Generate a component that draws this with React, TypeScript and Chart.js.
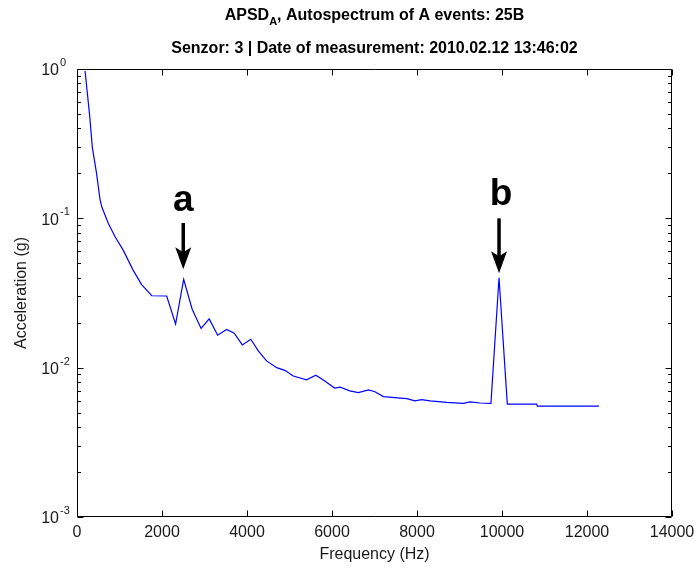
import React, { useEffect, useRef } from 'react';
import { Chart, registerables } from 'chart.js';

Chart.register(...registerables);

// ---- Data ----
const freqHz = [
  190, 300, 360, 460, 540, 580, 740, 900, 1090, 1320, 1520, 1760, 2110, 2320, 2510,
  2710, 2920, 3110, 3310, 3520, 3700, 3890, 4090, 4270, 4460, 4700, 4890, 5090, 5400,
  5620, 5840, 6060, 6190, 6420, 6620, 6860, 7010, 7210, 7480, 7760, 7950, 8110, 8310,
  8700, 9090, 9250, 9480, 9740, 9930, 10125, 10815, 10830, 12280,
];
const accelG = [
  0.97, 0.48, 0.30, 0.20, 0.135, 0.12, 0.092, 0.075, 0.061, 0.045, 0.036, 0.0303, 0.0302, 0.0196, 0.039,
  0.0246, 0.0183, 0.0212, 0.0165, 0.018, 0.017, 0.0142, 0.0155, 0.0129, 0.0111, 0.0100, 0.0096, 0.0088, 0.0083,
  0.0089, 0.0081, 0.0073, 0.0074, 0.0070, 0.0068, 0.0071, 0.0069, 0.0064, 0.0063, 0.0062, 0.0060, 0.0061, 0.0060,
  0.00585, 0.00577, 0.0059, 0.0058, 0.00577, 0.040, 0.0057, 0.0057, 0.00553, 0.00553,
];
const xTickValues = [0, 2000, 4000, 6000, 8000, 10000, 12000, 14000];
const yTickExponents = [0, -1, -2, -3];

const titleMain = 'APSD';
const titleSub = 'A';
const titleRest = ', Autospectrum of A events: 25B';
const subtitleText = 'Senzor: 3 | Date of measurement: 2010.02.12 13:46:02';
const xAxisTitle = 'Frequency (Hz)';
const yAxisTitle = 'Acceleration (g)';

// peak annotations (data units)
const peakLabels = ['a', 'b'];
const peakFreqs = [2500, 9930];
const peakLabelBaseline = [0.112, 0.1228];
const peakArrowTop = [0.093, 0.1];
const peakArrowTip = [0.0456, 0.0428];

const FONT = "'Liberation Sans', Arial, Helvetica, sans-serif";
const superDigits: Record<string, string> = { '0': '0', '1': '1', '2': '2', '3': '3', '-': '-' };

const decorPlugin = {
  id: 'matlabDecor',
  afterDraw(chart: any) {
    const ctx: CanvasRenderingContext2D = chart.ctx;
    const area = chart.chartArea;
    const xs = chart.scales.x;
    const ys = chart.scales.y;
    const L = Math.round(area.left) + 0.5;
    const R = Math.round(area.right) - 0.5;
    const T = Math.round(area.top) + 0.5;
    const B = Math.round(area.bottom) - 0.5;
    ctx.save();

    // box
    ctx.strokeStyle = '#000';
    ctx.lineWidth = 1;
    ctx.beginPath();
    ctx.rect(L, T, R - L, B - T);
    ctx.stroke();

    // x ticks
    ctx.beginPath();
    xTickValues.forEach((v) => {
      const px = Math.round(xs.getPixelForValue(v)) + 0.5;
      ctx.moveTo(px, B);
      ctx.lineTo(px, B - 6);
      ctx.moveTo(px, T);
      ctx.lineTo(px, T + 6);
    });
    // y ticks major + minor
    const minE = Math.min(...yTickExponents);
    const maxE = Math.max(...yTickExponents);
    for (let e = minE; e <= maxE; e++) {
      for (let m = 1; m <= 9; m++) {
        if (e === maxE && m > 1) break;
        const v = m * Math.pow(10, e);
        const py = Math.round(ys.getPixelForValue(v)) + 0.5;
        const len = m === 1 ? 6 : 3.5;
        ctx.moveTo(L, py);
        ctx.lineTo(L + len, py);
        ctx.moveTo(R, py);
        ctx.lineTo(R - len, py);
      }
    }
    ctx.stroke();

    ctx.fillStyle = '#1a1a1a';
    // x tick labels
    ctx.font = `16px ${FONT}`;
    ctx.textAlign = 'center';
    ctx.textBaseline = 'middle';
    xTickValues.forEach((v) => {
      ctx.fillText(String(v), xs.getPixelForValue(v), area.bottom + 16);
    });

    // y tick labels 10^e
    yTickExponents.forEach((e) => {
      const py = ys.getPixelForValue(Math.pow(10, e));
      ctx.font = `16px ${FONT}`;
      ctx.textAlign = 'right';
      ctx.textBaseline = 'middle';
      ctx.fillText('10', area.left - 18, py + 2);
      ctx.font = `11px ${FONT}`;
      ctx.textAlign = 'left';
      const s = String(e).split('').map((c) => superDigits[c] || c).join('');
      ctx.fillText(s, area.left - 17, py - 6);
    });

    // axis titles
    ctx.font = `16px ${FONT}`;
    ctx.textAlign = 'center';
    ctx.textBaseline = 'middle';
    ctx.fillText(xAxisTitle, (area.left + area.right) / 2, area.bottom + 38);
    ctx.save();
    ctx.translate(22, (area.top + area.bottom) / 2);
    ctx.rotate(-Math.PI / 2);
    ctx.fillText(yAxisTitle, 0, 0);
    ctx.restore();

    // title
    ctx.fillStyle = '#000';
    const cx = (area.left + area.right) / 2;
    ctx.textAlign = 'left';
    ctx.textBaseline = 'alphabetic';
    ctx.font = `bold 16px ${FONT}`;
    const w1 = ctx.measureText(titleMain).width;
    const w3 = ctx.measureText(titleRest).width;
    ctx.font = `bold 11px ${FONT}`;
    const w2 = ctx.measureText(titleSub).width;
    let x0 = cx - (w1 + w2 + w3) / 2;
    const base1 = 20;
    ctx.font = `bold 16px ${FONT}`;
    ctx.fillText(titleMain, x0, base1);
    ctx.font = `bold 11px ${FONT}`;
    ctx.fillText(titleSub, x0 + w1, base1 + 5);
    ctx.font = `bold 16px ${FONT}`;
    ctx.fillText(titleRest, x0 + w1 + w2, base1);
    ctx.textAlign = 'center';
    ctx.fillText(subtitleText, cx, 53);

    // peak arrows and labels
    ctx.fillStyle = '#000';
    peakLabels.forEach((lab, i) => {
      const px = xs.getPixelForValue(peakFreqs[i]);
      const top = ys.getPixelForValue(peakArrowTop[i]);
      const tip = ys.getPixelForValue(peakArrowTip[i]);
      const headLen = 22;
      const halfW = 8;
      const notch = 5;
      ctx.fillRect(px - 1.75, top, 3.5, tip - headLen + notch - top + 1);
      ctx.beginPath();
      ctx.moveTo(px, tip);
      ctx.lineTo(px - halfW, tip - headLen);
      ctx.lineTo(px, tip - headLen + notch);
      ctx.lineTo(px + halfW, tip - headLen);
      ctx.closePath();
      ctx.fill();
      ctx.font = `bold 37px ${FONT}`;
      ctx.textAlign = 'center';
      ctx.textBaseline = 'alphabetic';
      ctx.fillText(lab, px + (i === 1 ? 2 : 0), ys.getPixelForValue(peakLabelBaseline[i]));
    });

    ctx.restore();
  },
};

export default function App() {
  const ref = useRef<HTMLCanvasElement | null>(null);
  useEffect(() => {
    if (!ref.current) return;
    const chart = new Chart(ref.current, {
      type: 'line',
      data: {
        datasets: [
          {
            data: freqHz.map((x, i) => ({ x, y: accelG[i] })),
            borderColor: '#0000ff',
            borderWidth: 1.2,
            pointRadius: 0,
            tension: 0,
            fill: false,
          },
        ],
      },
      options: {
        responsive: false,
        animation: false,
        events: [],
        layout: { padding: { left: 77, right: 25, top: 69, bottom: 54 } },
        plugins: { legend: { display: false }, title: { display: false }, tooltip: { enabled: false } },
        scales: {
          x: { type: 'linear', min: 0, max: 14000, display: false },
          y: { type: 'logarithmic', min: 0.001, max: 1, display: false },
        },
      },
      plugins: [decorPlugin],
    } as any);
    return () => chart.destroy();
  }, []);
  return (
    <div style={{ position: 'fixed', left: 0, top: 0, width: 697, height: 571, background: '#fff' }}>
      <canvas ref={ref} width={697} height={571} style={{ display: 'block', width: 697, height: 571 }} />
    </div>
  );
}
